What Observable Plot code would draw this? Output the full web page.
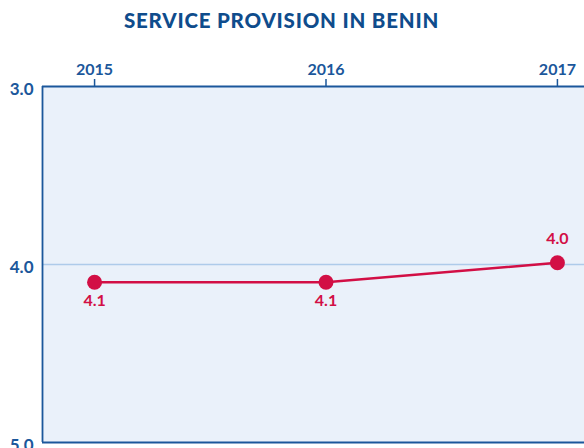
<!DOCTYPE html>
<html><head><meta charset="utf-8">
<script src="https://cdn.jsdelivr.net/npm/d3@7"></script>
<script src="https://cdn.jsdelivr.net/npm/@observablehq/plot@0.6"></script>
<style>
html,body{margin:0;padding:0;background:#fff;overflow:hidden;width:584px;height:448px}
#title{height:40px;line-height:41px;text-align:center;padding-right:21px;font-family:Lato,sans-serif;font-weight:900;font-size:20.5px;color:#0f4c8c;letter-spacing:0.8px}
svg{display:block}
</style>
</head><body>
<div id="title">SERVICE PROVISION IN BENIN</div>
<div id="chart"></div>
<script>
const years = [2015, 2016, 2017];
const values = [4.1, 4.1, 3.99];
const labels = ["4.1", "4.1", "4.0"];
const yTicks = [3, 4, 5];

const data = years.map((y, i) => ({year: y, value: values[i], label: labels[i]}));
const navy = "#1b579b";
const red = "#d20f45";
const font = "Lato, sans-serif";

const chart = Plot.plot({
  width: 584,
  height: 420,
  marginTop: 46,
  marginBottom: 18,
  marginLeft: 42,
  marginRight: 0,
  style: {fontFamily: font, background: "transparent", overflow: "visible"},
  x: {type: "linear", domain: [2014.775, 2017.117]},
  y: {domain: [3, 5], reverse: true},
  marks: [
    Plot.frame({fill: "#eaf1fa", stroke: null}),
    Plot.ruleY([4], {stroke: "#aecbea", strokeWidth: 1.6}),
    Plot.ruleY([3, 5], {stroke: navy, strokeWidth: 1.8}),
    Plot.ruleX([2014.775], {stroke: navy, strokeWidth: 1.8}),
    Plot.axisX(years, {anchor: "top", tickSize: 8, tickPadding: 4, stroke: navy, strokeWidth: 1.5, tickFormat: d => String(d), fill: navy, fontSize: 16, fontWeight: "bold", label: null}),
    Plot.axisY(yTicks, {anchor: "left", tickSize: 0, tickPadding: 9, tickFormat: d => d.toFixed(1), fill: navy, fontSize: 17, fontWeight: "bold", dy: 3, label: null}),
    Plot.line(data, {x: "year", y: "value", stroke: red, strokeWidth: 2.5}),
    Plot.dot(data, {x: "year", y: "value", r: 7.5, fill: red, stroke: null}),
    Plot.text(data, {filter: (d, i) => i < data.length - 1, x: "year", y: "value", text: "label", dy: 19, fill: red, fontSize: 16, fontWeight: "bold"}),
    Plot.text(data, {filter: (d, i) => i === data.length - 1, x: "year", y: "value", text: "label", dy: -24, fill: red, fontSize: 16, fontWeight: "bold"})
  ]
});
document.getElementById("chart").appendChild(chart);
</script>
</body></html>
